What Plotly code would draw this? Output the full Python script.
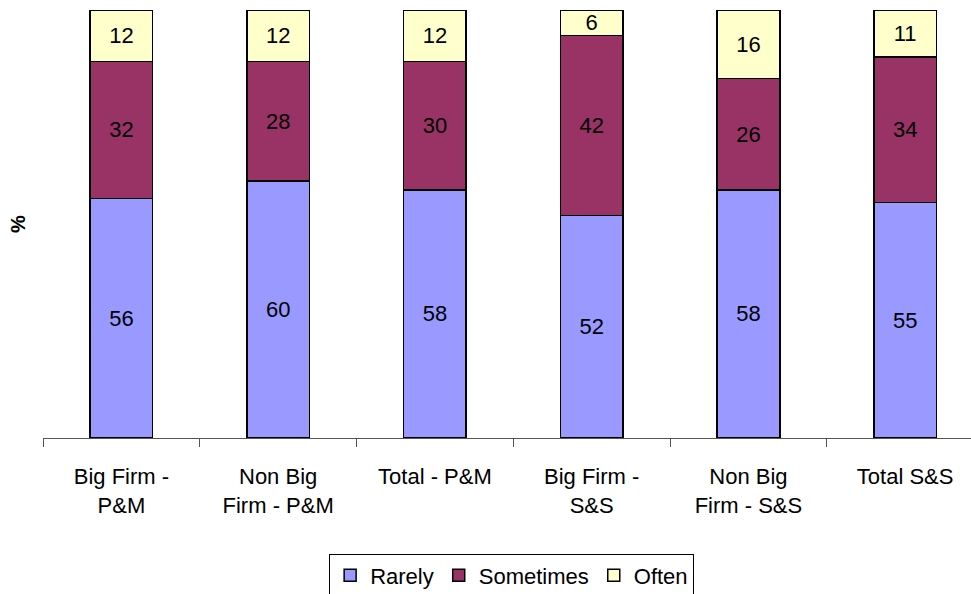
import plotly.graph_objects as go

categories = ["Big Firm -<br>P&M", "Non Big<br>Firm - P&M", "Total - P&M",
              "Big Firm -<br>S&S", "Non Big<br>Firm - S&S", "Total S&S"]
rarely = [56, 60, 58, 52, 58, 55]
sometimes = [32, 28, 30, 42, 26, 34]
often = [12, 12, 12, 6, 16, 11]

series = [("Rarely", rarely, "#9999FF"),
          ("Sometimes", sometimes, "#993366"),
          ("Often", often, "#FFFFCC")]

FONT = "Liberation Sans, Arial, sans-serif"

fig = go.Figure()
for name, vals, color in series:
    fig.add_trace(go.Bar(
        name=name, x=categories, y=vals,
        marker=dict(color=color, line=dict(color="black", width=1.5)),
        text=[str(v) for v in vals], textposition="inside",
        insidetextanchor="middle", textangle=0, constraintext="none",
        textfont=dict(color="black", size=22, family=FONT),
        width=0.4,
    ))

fig.update_layout(
    barmode="stack",
    width=971, height=594,
    margin=dict(l=43, r=0, t=10, b=156, autoexpand=False),
    paper_bgcolor="white", plot_bgcolor="white",
    font=dict(family=FONT, size=22, color="black"),
    showlegend=True,
    legend=dict(orientation="h", x=0.505, xanchor="center", y=-0.27, yanchor="top",
                bordercolor="black", borderwidth=1, font=dict(size=22),
                traceorder="normal", itemwidth=30, tracegroupgap=0),
    xaxis=dict(range=[-0.5, 5.42], showline=True, linecolor="#555555", linewidth=1,
               ticks="outside", tickson="boundaries", ticklen=8, tickcolor="#555555",
               showgrid=False, tickfont=dict(size=22), ticklabelstandoff=19,
               automargin=False),
    yaxis=dict(range=[0, 100], showticklabels=False, showgrid=False, zeroline=False,
               showline=False, ticks="", automargin=False,
               title=dict(text="<b>%</b>", font=dict(size=20), standoff=11)),
)

fig.write_html("out.html", config={"displayModeBar": False},
               post_script="document.body.style.margin='0';")
